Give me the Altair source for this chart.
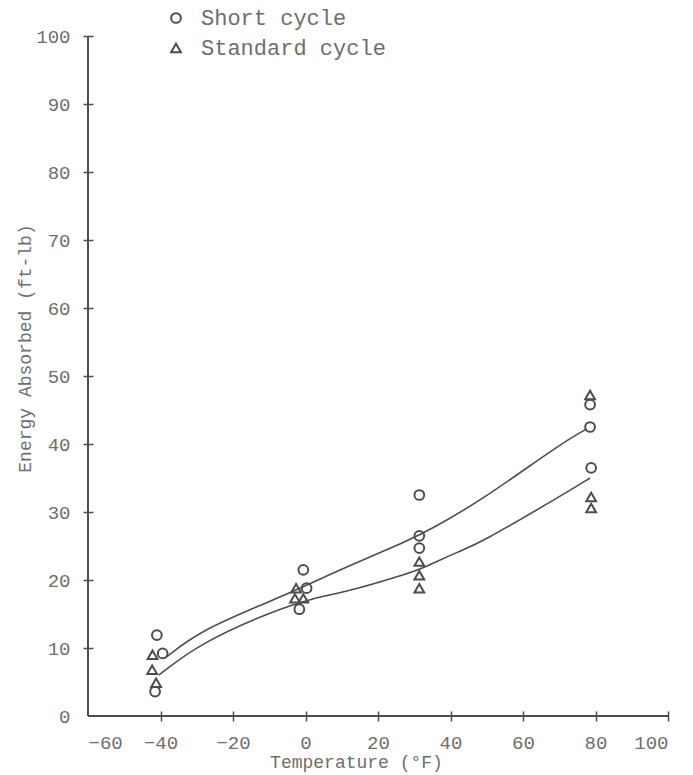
import altair as alt
import pandas as pd

# Charpy impact energy vs test temperature for two heat-treatment cycles
short_temp = [-41.0, -39.4, -41.5, -0.6, 0.3, -1.7, 31.4, 31.4, 31.4, 78.5, 78.5, 78.8]
short_energy = [11.9, 9.2, 3.6, 21.5, 18.8, 15.7, 32.5, 26.5, 24.7, 45.8, 42.5, 36.5]

std_temp = [-42.2, -42.3, -41.2, -2.6, -2.9, -0.6, 31.4, 31.4, 31.4, 78.5, 78.8, 78.8]
std_energy = [9.0, 6.8, 4.9, 18.8, 17.3, 17.3, 22.7, 20.7, 18.8, 47.2, 32.2, 30.6]

# Fitted curves through each group
short_fit_temp = [-38.8, -29.0, -10.0, 3.5, 9.5, 28.8, 34.3, 48.0, 70.0, 77.5]
short_fit_energy = [8.5, 12.6, 16.8, 20.0, 21.5, 25.9, 27.4, 31.5, 39.9, 42.2]

std_fit_temp = [-40.5, -29.1, -9.8, 3.1, 9.5, 28.8, 33.4, 42.6, 48.1, 70.2, 78.5]
std_fit_energy = [6.0, 10.7, 15.3, 17.5, 18.0, 21.0, 22.0, 24.3, 25.4, 32.3, 35.0]

series_names = ["Short cycle", "Standard cycle"]
x_ticks = [-60, -40, -20, 0, 20, 40, 60, 80, 100]
y_ticks = [0, 10, 20, 30, 40, 50, 60, 70, 80, 90, 100]

FONT = "Liberation Mono"
INK = "#4d4d4d"
TEXT = "#6e6e6e"

points = pd.DataFrame({
    "temp": short_temp + std_temp,
    "energy": short_energy + std_energy,
    "cycle": [series_names[0]] * len(short_temp) + [series_names[1]] * len(std_temp),
})
fits = pd.DataFrame({
    "temp": short_fit_temp + std_fit_temp,
    "energy": short_fit_energy + std_fit_energy,
    "cycle": [series_names[0]] * len(short_fit_temp) + [series_names[1]] * len(std_fit_temp),
})

x_scale = alt.Scale(domain=[x_ticks[0], x_ticks[-1]], nice=False, zero=False)
y_scale = alt.Scale(domain=[y_ticks[0], y_ticks[-1]], nice=False)

x_axis = alt.Axis(
    values=x_ticks, title="Temperature (°F)", domain=False, grid=False,
    offset=-5, tickSize=10, tickWidth=1.5,
    tickColor=alt.condition("datum.value == -60", alt.value("transparent"), alt.value(INK)),
    labelPadding=12, labelFont=FONT, labelFontSize=19, labelColor=TEXT,
    titleFont=FONT, titleFontSize=18, titleFontWeight="normal", titleColor=TEXT,
    titlePadding=1, titleX=268,
)
y_axis = alt.Axis(
    values=y_ticks, title="Energy Absorbed (ft-lb)", domain=False, grid=False,
    offset=-5, tickSize=10, tickWidth=1.5,
    tickColor=alt.condition("datum.value == 0", alt.value("transparent"), alt.value(INK)),
    labelPadding=13, labelFont=FONT, labelFontSize=19, labelColor=TEXT,
    titleFont=FONT, titleFontSize=18, titleFontWeight="normal", titleColor=TEXT,
    titlePadding=1, titleY=312,
)

x_enc = alt.X("temp:Q", scale=x_scale, axis=x_axis)
y_enc = alt.Y("energy:Q", scale=y_scale, axis=y_axis)

marks = alt.Chart(points).mark_point(
    filled=False, color=INK, strokeWidth=2, size=95, opacity=1
).encode(
    x=x_enc,
    y=y_enc,
    shape=alt.Shape(
        "cycle:N",
        scale=alt.Scale(domain=series_names, range=["circle", "triangle-up"]),
        legend=alt.Legend(
            title=None, orient="none", legendX=77, legendY=-29,
            labelFont=FONT, labelFontSize=22, labelColor=TEXT, labelLimit=0,
            labelOffset=14, rowPadding=8,
            symbolStrokeColor=INK, symbolFillColor="transparent",
            symbolStrokeWidth=2, symbolSize=95,
        ),
    ),
)

curves = alt.Chart(fits).mark_line(
    color=INK, strokeWidth=1.6, interpolate="basis"
).encode(
    x=alt.X("temp:Q", scale=x_scale),
    y=alt.Y("energy:Q", scale=y_scale),
    detail="cycle:N",
)

# Axis lines drawn as rules so the tick marks can cross them
x_line = alt.Chart().mark_rule(color=INK, strokeWidth=2).encode(
    x=alt.datum(x_ticks[0], scale=x_scale), x2=alt.datum(x_ticks[-1]),
    y=alt.datum(y_ticks[0], scale=y_scale),
)
y_line = alt.Chart().mark_rule(color=INK, strokeWidth=2).encode(
    x=alt.datum(x_ticks[0], scale=x_scale),
    y=alt.datum(y_ticks[0], scale=y_scale), y2=alt.datum(y_ticks[-1]),
)

chart = alt.layer(marks, curves, x_line, y_line).properties(
    width=580, height=680,
    autosize="none",
    padding={"left": 88, "top": 36, "right": 25, "bottom": 59},
    background="white",
).configure_view(stroke=None)

chart.save("out.html", embed_options={"renderer": "svg", "actions": False})
